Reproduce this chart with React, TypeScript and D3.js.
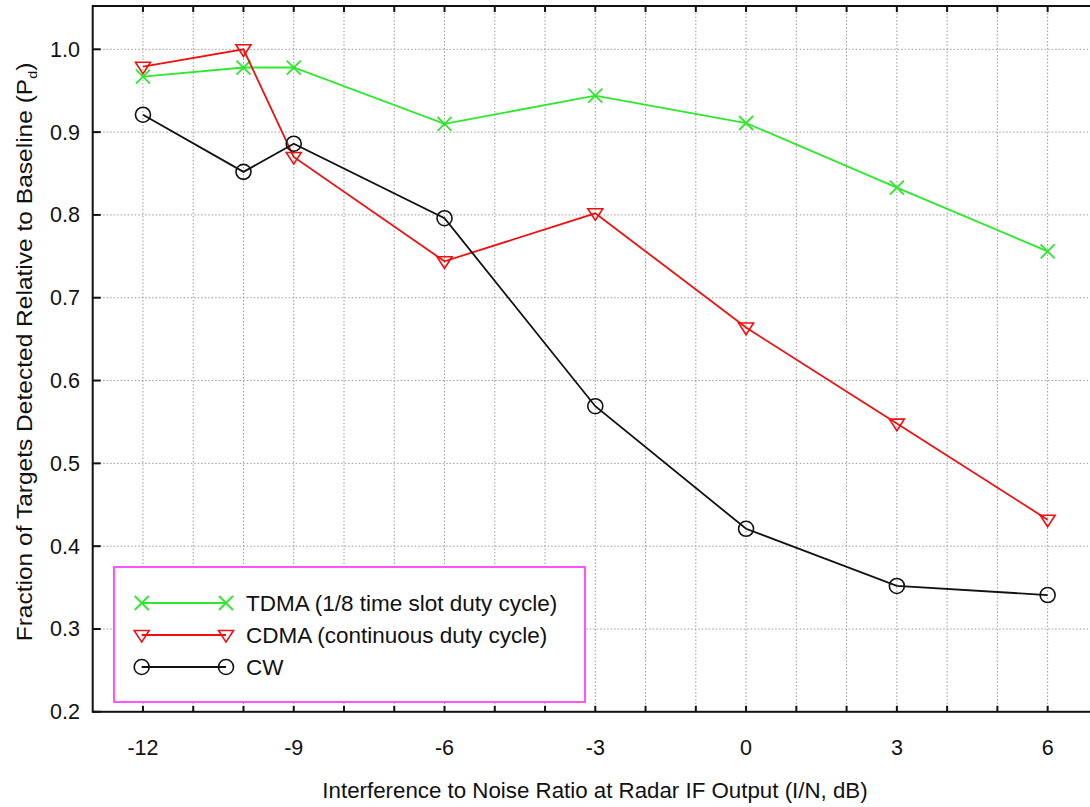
import React from "react";
import * as d3 from "d3";

const xValues = [-12, -10, -9, -6, -3, 0, 3, 6];
const tdma = [0.967, 0.978, 0.978, 0.910, 0.944, 0.911, 0.833, 0.756];
const cdma = [0.979, 1.0, 0.870, 0.744, 0.802, 0.664, 0.548, 0.432];
const cw = [0.921, 0.852, 0.886, 0.796, 0.569, 0.421, 0.352, 0.341];
const xTickLabels = [-12, -9, -6, -3, 0, 3, 6];
const yTickLabels = [0.2, 0.3, 0.4, 0.5, 0.6, 0.7, 0.8, 0.9, 1.0];
const seriesNames = ["TDMA (1/8 time slot duty cycle)", "CDMA (continuous duty cycle)", "CW"];

const W = 1090;
const H = 807;
const left = 92.7;
const right = 1097.9;
const top = 6;
const bottom = 711.8;

const x = d3.scaleLinear().domain([-13, 7]).range([left, right]);
const y = d3.scaleLinear().domain([0.2, 1.0]).range([bottom, 49.3]);

const GREEN = "#2ee82e";
const RED = "#f01010";
const BLACK = "#111111";
const FONT = "'Liberation Sans', Arial, Helvetica, sans-serif";

function Marker({ kind, cx, cy, color }: { kind: string; cx: number; cy: number; color: string }) {
  if (kind === "x") {
    const s = 7;
    return (
      <path
        d={`M${cx - s},${cy - s}L${cx + s},${cy + s}M${cx - s},${cy + s}L${cx + s},${cy - s}`}
        stroke={color}
        strokeWidth={1.8}
        fill="none"
      />
    );
  }
  if (kind === "tri") {
    const s = 7.5;
    return (
      <path
        d={`M${cx - s},${cy - s * 0.6}L${cx + s},${cy - s * 0.6}L${cx},${cy + s * 0.95}Z`}
        stroke={color}
        strokeWidth={1.6}
        fill="none"
      />
    );
  }
  return <circle cx={cx} cy={cy} r={7.5} stroke={color} strokeWidth={1.6} fill="none" />;
}

export default function App() {
  const line = d3
    .line<number>()
    .x((_, i) => x(xValues[i]))
    .y((d) => y(d));

  const series = [
    { name: seriesNames[0], values: tdma, color: GREEN, kind: "x" },
    { name: seriesNames[1], values: cdma, color: RED, kind: "tri" },
    { name: seriesNames[2], values: cw, color: BLACK, kind: "circle" },
  ];

  const xMinor = d3.range(-12, 7, 1);
  const yGrid = d3.range(0.3, 1.05, 0.1);

  const legend = { x0: 114, y0: 567, x1: 585, y1: 702 };
  const legendRows = [603, 635, 667];

  return (
    <svg
      width={W}
      height={H}
      style={{ position: "absolute", left: 0, top: 0, background: "white" }}
      fontFamily={FONT}
    >
      <defs>
        <clipPath id="plot">
          <rect x={left} y={top} width={right - left} height={bottom - top} />
        </clipPath>
      </defs>
      <rect x={0} y={0} width={W} height={H} fill="white" />
      {/* grid */}
      <g stroke="#9a9a9a" strokeWidth={1} strokeDasharray="1.5,2">
        {xMinor.map((v) => (
          <line key={"gx" + v} x1={x(v)} x2={x(v)} y1={top} y2={bottom} />
        ))}
        {yGrid.map((v) => (
          <line key={"gy" + v} x1={left} x2={right} y1={y(v)} y2={y(v)} />
        ))}
      </g>
      {/* ticks */}
      <g stroke="#111" strokeWidth={2}>
        {xMinor.map((v) => (
          <g key={"tx" + v}>
            <line x1={x(v)} x2={x(v)} y1={bottom} y2={bottom - 6} />
            <line x1={x(v)} x2={x(v)} y1={top} y2={top + 6} />
          </g>
        ))}
        {yTickLabels.map((v) => (
          <line key={"ty" + v} x1={left} x2={left + 8} y1={y(v)} y2={y(v)} />
        ))}
      </g>
      {/* series */}
      <g clipPath="url(#plot)">
        {series.map((s) => (
          <g key={s.name}>
            <path d={line(s.values) || ""} fill="none" stroke={s.color} strokeWidth={1.8} />
            {s.values.map((v, i) => (
              <Marker key={i} kind={s.kind} cx={x(xValues[i])} cy={y(v)} color={s.color} />
            ))}
          </g>
        ))}
      </g>
      {/* legend */}
      <rect
        x={legend.x0}
        y={legend.y0}
        width={legend.x1 - legend.x0}
        height={legend.y1 - legend.y0}
        fill="white"
        stroke="#ff55ff"
        strokeWidth={2}
      />
      {series.map((s, i) => (
        <g key={"lg" + s.name}>
          <line x1={141.7} x2={226} y1={legendRows[i]} y2={legendRows[i]} stroke={s.color} strokeWidth={1.8} />
          <Marker kind={s.kind} cx={141.7} cy={legendRows[i]} color={s.color} />
          <Marker kind={s.kind} cx={226} cy={legendRows[i]} color={s.color} />
          <text x={246} y={legendRows[i] + 8} fontSize={22.5} fill="#111">
            {s.name}
          </text>
        </g>
      ))}
      {/* frame */}
      <rect x={left} y={top} width={right - left} height={bottom - top} fill="none" stroke="#111" strokeWidth={2} />
      {/* tick labels */}
      {xTickLabels.map((v) => (
        <text key={"lx" + v} x={x(v)} y={755} textAnchor="middle" fontSize={21.5} fill="#111">
          {v}
        </text>
      ))}
      {yTickLabels.map((v) => (
        <text key={"ly" + v} x={80} y={y(v) + 7.5} textAnchor="end" fontSize={21.5} fill="#111">
          {v.toFixed(1)}
        </text>
      ))}
      {/* axis titles */}
      <text x={595} y={798} textAnchor="middle" fontSize={22.3} fill="#111">
        Interference to Noise Ratio at Radar IF Output (I/N, dB)
      </text>
      <text
        transform={`translate(32, 352) rotate(-90) scale(1.1, 1)`}
        textAnchor="middle"
        fontSize={22.3}
        fill="#111"
      >
        Fraction of Targets Detected Relative to Baseline (P
        <tspan fontSize={13} dy={5}>d</tspan>
        <tspan dy={-5}>)</tspan>
      </text>
    </svg>
  );
}
